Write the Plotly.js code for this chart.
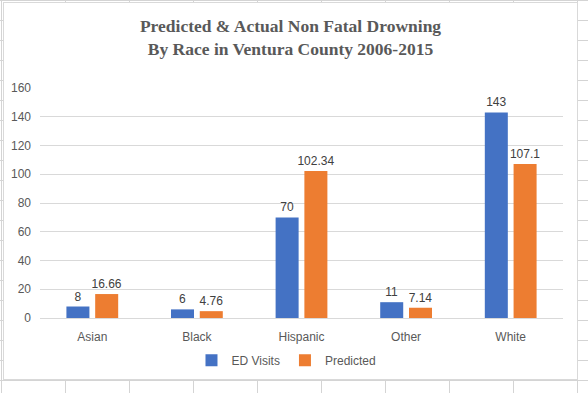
<!DOCTYPE html>
<html>
<head>
<meta charset="utf-8">
<script src="https://cdn.plot.ly/plotly-3.0.1.min.js"></script>
<style>
html,body{margin:0;padding:0;width:588px;height:393px;overflow:hidden;background-color:#fff;
background-image:
 repeating-linear-gradient(to right, #d4d4d4 0px, #d4d4d4 1px, transparent 1px, transparent 64px),
 repeating-linear-gradient(to bottom, #d4d4d4 0px, #d4d4d4 1px, transparent 1px, transparent 20px);
background-position:1px 0px, 0px 0px;}
#chart{position:absolute;left:3px;top:2px;width:575px;height:378px;background:#fff;box-sizing:border-box;border:1px solid #d9d9d9;}
</style>
</head>
<body>
<div id="chart"></div>
<script>
const categories = ["Asian", "Black", "Hispanic", "Other", "White"];
const edVisits = [8, 6, 70, 11, 143];
const predicted = [16.66, 4.76, 102.34, 7.14, 107.1];
const yTicks = [0, 20, 40, 60, 80, 100, 120, 140, 160];

const labelFont = {family: "Liberation Sans, Arial, sans-serif", size: 12, color: "#404040"};
const traces = [
  {type: "bar", name: "ED Visits", x: categories, y: edVisits, marker: {color: "#4472C4"},
   text: edVisits.map(String), textposition: "outside", constraintext: "none", textfont: labelFont, cliponaxis: false, hoverinfo: "none"},
  {type: "bar", name: "Predicted", x: categories, y: predicted, marker: {color: "#ED7D31"},
   text: predicted.map(String), textposition: "outside", constraintext: "none", textfont: labelFont, cliponaxis: false, hoverinfo: "none"}
];
const layout = {
  width: 573, height: 376,
  margin: {l: 36, r: 14, t: 85, b: 61},
  paper_bgcolor: "rgba(0,0,0,0)", plot_bgcolor: "#fff",
  title: {text: "Predicted & Actual Non Fatal Drowning<br>By Race in Ventura County 2006-2015",
    font: {family: "Liberation Serif, Times New Roman, serif", size: 17.5, color: "#595959", weight: "bold"},
    x: 0.5, xref: "container", y: 0.922, yref: "container", yanchor: "top"},
  barmode: "group", bargap: 0.45, bargroupgap: 0.2,
  font: {family: "Liberation Sans, Arial, sans-serif", size: 12, color: "#595959"},
  xaxis: {showline: true, linecolor: "#d9d9d9", linewidth: 1, ticks: "", ticklabelstandoff: 8,
    tickfont: {size: 12, color: "#595959"}},
  yaxis: {range: [0, 160], tickvals: yTicks, ticktext: yTicks.map(String), gridcolor: "#d9d9d9", gridwidth: 1,
    zeroline: false, showline: false, ticks: "", ticklabelstandoff: 8, tickfont: {size: 12, color: "#595959"}},
  showlegend: true,
  legend: {orientation: "h", x: 0.493, xref: "container", xanchor: "center", y: 0.05, yref: "container", yanchor: "middle",
    font: {size: 12, color: "#595959"}, itemwidth: 30, traceorder: "normal"}
};
Plotly.newPlot("chart", traces, layout, {displayModeBar: false, staticPlot: true});
</script>
</body>
</html>
